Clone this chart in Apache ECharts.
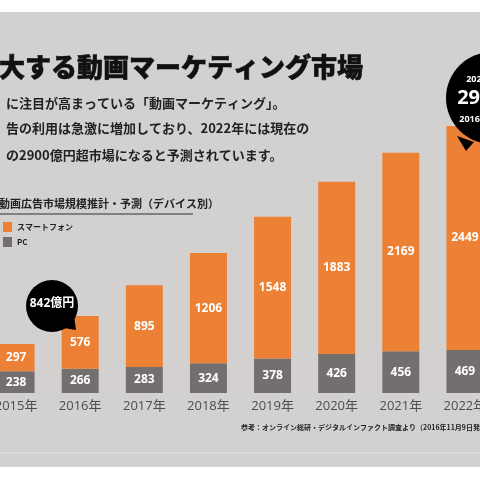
<!DOCTYPE html>
<html>
<head>
<meta charset="utf-8">
<script src="https://cdn.jsdelivr.net/npm/echarts@6/dist/echarts.min.js"></script>
<style>
  html, body { margin: 0; padding: 0; background: #fff; overflow: hidden; }
  #chart { width: 513px; height: 480px; margin-left: -16px; }
</style>
</head>
<body>
<div id="chart"></div>
<script>
// データ（億円）
const years = ['2015年', '2016年', '2017年', '2018年', '2019年', '2020年', '2021年', '2022年'];
const pcValues = [238, 266, 283, 324, 378, 426, 456, 469];
const phoneValues = [297, 576, 895, 1206, 1548, 1883, 2169, 2449];

const ORANGE = '#ec8034';
const GRAY = '#736f6e';
const BG = '#d3d0d0';
const FONT = '"Open Sans", "Noto Sans CJK JP", sans-serif';
const JP = '"Noto Sans CJK JP", sans-serif';
const OX = 16; // 画面左端のずれ

const chart = echarts.init(document.getElementById('chart'));

const barLabel = {
    show: true,
    position: 'inside',
    color: '#fff',
    fontFamily: FONT,
    fontWeight: 'bold',
    fontSize: 12
};

const option = {
    backgroundColor: '#fff',
    animation: false,
    grid: { left: 0, right: 0, top: 27, bottom: 87 },
    legend: {
        orient: 'vertical',
        left: OX - 2,
        top: 217,
        itemWidth: 9,
        itemHeight: 10,
        itemGap: 5,
        icon: 'rect',
        data: ['スマートフォン', 'PC'],
        textStyle: { fontFamily: JP, fontSize: 8, fontWeight: 'bold', color: '#222' }
    },
    xAxis: {
        type: 'category',
        data: years,
        axisLine: { show: false },
        axisTick: { show: false },
        axisLabel: { color: '#4e4e4e', fontFamily: FONT, fontSize: 13, margin: 7 }
    },
    yAxis: { type: 'value', min: 0, max: 4000, show: false },
    series: [
        {
            name: 'PC',
            type: 'bar',
            stack: 'total',
            barWidth: 37,
            itemStyle: { color: GRAY },
            label: barLabel,
            data: pcValues
        },
        {
            name: 'スマートフォン',
            type: 'bar',
            stack: 'total',
            barWidth: 37,
            itemStyle: { color: ORANGE },
            label: barLabel,
            data: phoneValues
        }
    ],
    graphic: [
        // 背景
        { type: 'rect', z: -10, shape: { x: 0, y: 12, width: 513, height: 455 }, style: { fill: BG } },
        { type: 'line', z: -9, shape: { x1: 0, y1: 453, x2: 513, y2: 453 }, style: { stroke: '#e4e2e2', lineWidth: 1 } },
        // タイトル
        { type: 'text', x: OX - 27, y: 67, style: { text: '拡大する動画マーケティング市場', font: '900 26px ' + JP, fill: '#111', textVerticalAlign: 'middle', stroke: '#111', lineWidth: 0.6 } },
        { type: 'text', x: OX + 6, y: 103, style: { text: 'に注目が高まっている「動画マーケティング」。', font: 'bold 13px ' + JP, fill: '#222', textVerticalAlign: 'middle' } },
        { type: 'text', x: OX + 6, y: 128, style: { text: '告の利用は急激に増加しており、2022年には現在の', font: 'bold 13px ' + JP, fill: '#222', textVerticalAlign: 'middle' } },
        { type: 'text', x: OX + 6, y: 155, style: { text: 'の2900億円超市場になると予測されています。', font: 'bold 13px ' + JP, fill: '#222', textVerticalAlign: 'middle' } },
        // サブタイトル
        { type: 'text', x: OX - 1, y: 204, style: { text: '動画広告市場規模推計・予測（デバイス別）', font: 'bold 11px ' + JP, fill: '#222', textVerticalAlign: 'middle' } },
        { type: 'line', shape: { x1: 0, y1: 214, x2: OX + 193, y2: 214 }, style: { stroke: '#666', lineWidth: 1.5 } },
        // 2016 吹き出し
        { type: 'circle', z: 20, shape: { cx: OX + 52, cy: 306, r: 26 }, style: { fill: '#000' } },
        { type: 'polygon', z: 20, shape: { points: [[OX + 64, 328], [OX + 74, 316], [OX + 76, 330]] }, style: { fill: '#000' } },
        { type: 'text', z: 21, x: OX + 52, y: 304, style: { text: '842億円', font: 'bold 12px ' + FONT, fill: '#fff', textAlign: 'center', textVerticalAlign: 'middle' } },
        // 2022 吹き出し
        { type: 'circle', z: 20, shape: { cx: OX + 492, cy: 98, r: 46 }, style: { fill: '#000' } },
        { type: 'polygon', z: 20, shape: { points: [[OX + 457, 136], [OX + 474, 142], [OX + 466, 151]] }, style: { fill: '#000' } },
        { type: 'text', z: 21, x: OX + 490, y: 79, style: { text: '2022年には', font: 'bold 9px ' + FONT, fill: '#fff', textAlign: 'center', textVerticalAlign: 'middle' } },
        {
            type: 'text', z: 21, x: OX + 492, y: 98,
            style: {
                text: '{a|2918}{b|億円}',
                rich: {
                    a: { fontFamily: FONT, fontWeight: 'bold', fontSize: 20, fill: '#fff' },
                    b: { fontFamily: JP, fontWeight: 'bold', fontSize: 12, fill: '#fff' }
                },
                fill: '#fff', textAlign: 'center', textVerticalAlign: 'middle'
            }
        },
        { type: 'text', z: 21, x: OX + 494, y: 119, style: { text: '2016年の約3.5倍', font: 'bold 9px ' + FONT, fill: '#fff', textAlign: 'center', textVerticalAlign: 'middle' } },
        // 出典
        { type: 'text', x: OX + 241, y: 427, style: { text: '参考：オンライン総研・デジタルインファクト調査より（2016年11月9日発表）', font: 'bold 7px ' + JP, fill: '#222', textVerticalAlign: 'middle' } }
    ]
};

chart.setOption(option);
</script>
</body>
</html>
